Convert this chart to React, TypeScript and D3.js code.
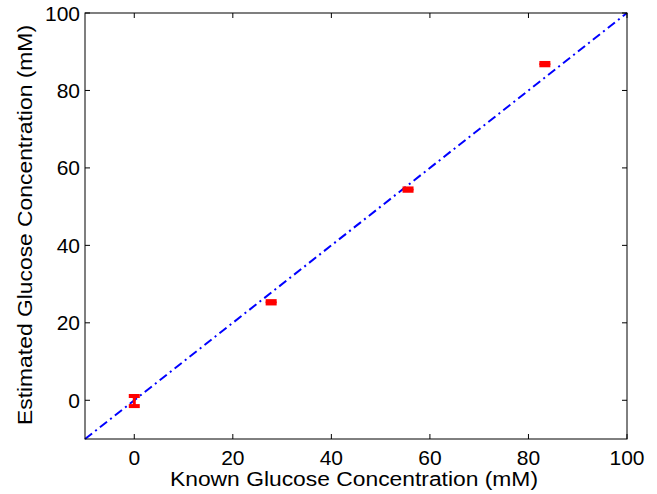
import React from 'react';
import * as d3 from 'd3';

// data
const known = [0, 27.78, 55.56, 83.33];
const estimated = [-0.2, 25.3, 54.4, 86.8];
const errs = [1.3, 0.3, 0.3, 0.3];
const xTicks = [0, 20, 40, 60, 80, 100];
const yTicks = [0, 20, 40, 60, 80, 100];
const lineDomain = [-10, 100];

const W = 657, H = 494;
const margin = { top: 13, right: 30, bottom: 55, left: 85 };

export default function App() {
  const w = W - margin.left - margin.right;
  const h = H - margin.top - margin.bottom;

  const x = d3.scaleLinear().domain([-10, 100]).range([0, w]);
  const y = d3.scaleLinear().domain([-10, 100]).range([h, 0]);

  const line = d3.line<number>()
    .x(d => x(d))
    .y(d => y(d));

  const font = 'Helvetica, Arial, "Liberation Sans", sans-serif';
  const tickLen = 5;
  const capW = 11;

  return (
    <svg width={W} height={H} style={{ position: 'absolute', left: 0, top: 0, background: '#fff' }}
      fontFamily={font}>
      <g transform={`translate(${margin.left},${margin.top})`}>
        <path d={line(lineDomain) || ''} stroke="#0000ff" strokeWidth={2}
          fill="none" strokeDasharray="9,4,2,4" />

        {known.map((k, i) => {
          const cx = x(k);
          const lo = y(estimated[i] - errs[i]);
          const hi = y(estimated[i] + errs[i]);
          return (
            <g key={i} stroke="#ff0000" strokeWidth={4}>
              <line x1={cx} x2={cx} y1={lo} y2={hi} strokeWidth={3} />
              <line x1={cx - capW / 2} x2={cx + capW / 2} y1={lo} y2={lo} />
              <line x1={cx - capW / 2} x2={cx + capW / 2} y1={hi} y2={hi} />
            </g>
          );
        })}

        <rect x={0} y={0} width={w} height={h} fill="none" stroke="#000" strokeWidth={1} />

        {xTicks.map(t => (
          <g key={'x' + t}>
            <line x1={x(t)} x2={x(t)} y1={h} y2={h - tickLen} stroke="#000" />
            <line x1={x(t)} x2={x(t)} y1={0} y2={tickLen} stroke="#000" />
            <text x={x(t)} y={h + 26} textAnchor="middle" fontSize={21}>{t}</text>
          </g>
        ))}
        {yTicks.map(t => (
          <g key={'y' + t}>
            <line x1={0} x2={tickLen} y1={y(t)} y2={y(t)} stroke="#000" />
            <line x1={w} x2={w - tickLen} y1={y(t)} y2={y(t)} stroke="#000" />
            <text x={-5} y={y(t) + 7.5} textAnchor="end" fontSize={21}>{t}</text>
          </g>
        ))}

        <text x={w / 2 - 2} y={h + 47} textAnchor="middle" fontSize={20}
          textLength={368} lengthAdjust="spacingAndGlyphs">
          Known Glucose Concentration (mM)
        </text>
        <text transform={`translate(${-margin.left + 31.5},${h / 2 - 1}) rotate(-90)`}
          textAnchor="middle" fontSize={21} textLength={400} lengthAdjust="spacingAndGlyphs">
          Estimated Glucose Concentration (mM)
        </text>
      </g>
    </svg>
  );
}
